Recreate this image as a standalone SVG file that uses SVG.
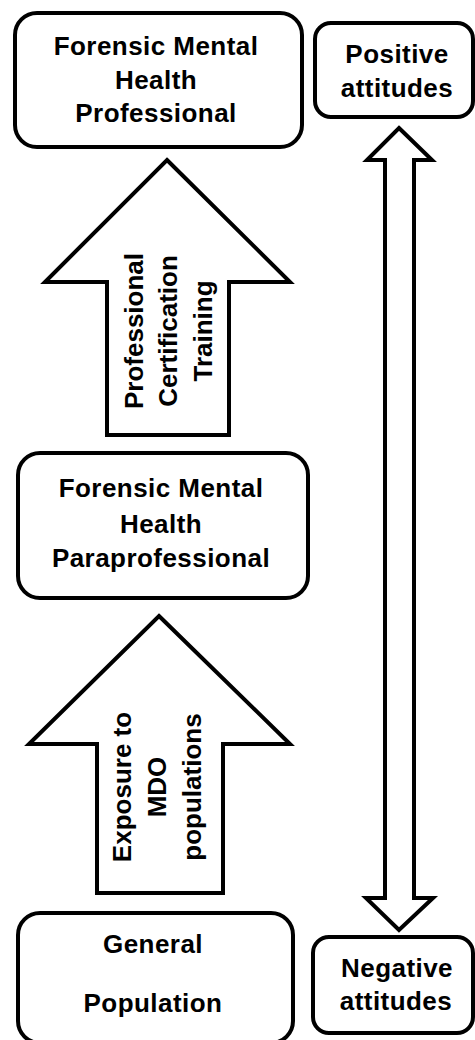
<svg xmlns="http://www.w3.org/2000/svg" width="475" height="1040" viewBox="0 0 475 1040">
<style>
.box{fill:#fff;stroke:#000;stroke-width:4}
.arr{fill:#fff;stroke:#000;stroke-width:4;stroke-linejoin:miter}
text{font-family:"Liberation Sans",Arial,sans-serif;font-weight:bold;font-size:26px;fill:#000;text-anchor:middle}
.n text{letter-spacing:0.45px}
</style>
<rect width="475" height="1040" fill="#fff"/>
<g id="connectors">
<polygon id="arrow-training" class="arr" points="167,160 290,282 229,282 229,435 107,435 107,282 45,282"/>
<polygon id="arrow-exposure" class="arr" points="159,616 290,744 223,744 223,893 97,893 97,744 29,744"/>
<polygon id="arrow-attitudes" class="arr" points="399,128 432,160 414,160 414,898 433,898 399,930 366,898 385,898 385,160 367,160"/>
<g id="label-training">
<text transform="translate(143,331) rotate(-90)">Professional</text>
<text transform="translate(177,331) rotate(-90)">Certification</text>
<text transform="translate(212,331) rotate(-90)">Training</text>
</g>
<g id="label-exposure">
<text transform="translate(131,787) rotate(-90)">Exposure to</text>
<text transform="translate(166,787) rotate(-90)">MDO</text>
<text transform="translate(201,787) rotate(-90)">populations</text>
</g>
</g>
<g id="node-professional" class="n">
<rect class="box" x="15" y="13" width="287" height="134" rx="22"/>
<text x="156" y="55">Forensic Mental</text>
<text x="156" y="89">Health</text>
<text x="156" y="122">Professional</text>
</g>
<g id="node-positive" class="n">
<rect class="box" x="315" y="23" width="158" height="94" rx="16"/>
<text x="397" y="63">Positive</text>
<text x="397" y="97">attitudes</text>
</g>
<g id="node-paraprofessional" class="n">
<rect class="box" x="18" y="453" width="290" height="145" rx="22"/>
<text x="161" y="497">Forensic Mental</text>
<text x="161" y="533">Health</text>
<text x="161" y="567">Paraprofessional</text>
</g>
<g id="node-general" class="n">
<rect class="box" x="18" y="913" width="275" height="130" rx="22"/>
<text x="153" y="953">General</text>
<text x="153" y="1012">Population</text>
</g>
<g id="node-negative" class="n">
<rect class="box" x="313" y="937" width="160" height="96" rx="16"/>
<text x="397" y="977">Negative</text>
<text x="396" y="1010">attitudes</text>
</g>
</svg>
